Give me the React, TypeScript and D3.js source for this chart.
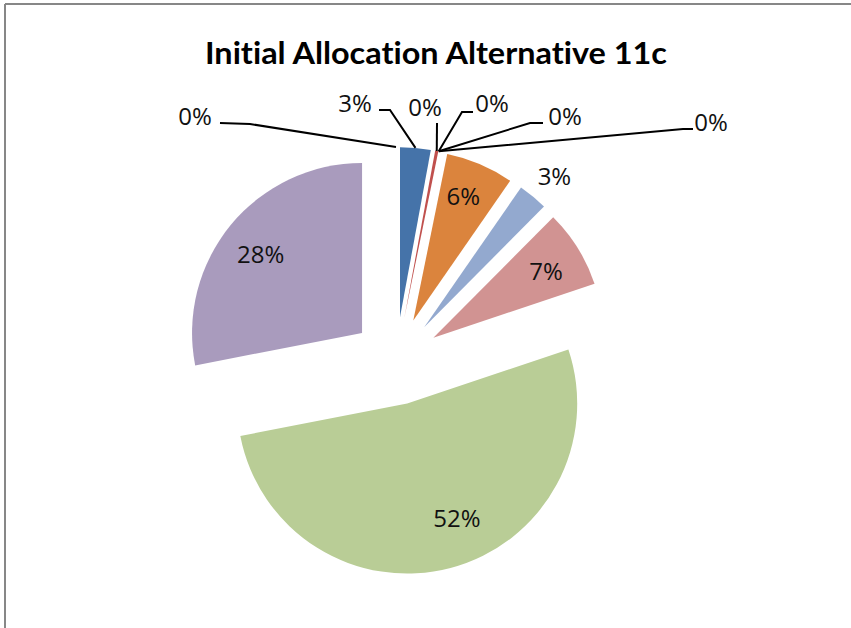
import React from "react";
import * as d3 from "d3";

// ---- data ----
const categories = [
  "Item 1", "Item 2", "Item 3", "Item 4", "Item 5", "Item 6",
  "Item 7", "Item 8", "Item 9", "Item 10", "Item 11",
];
const values = [2.9, 0.3, 0, 0, 0, 6.45, 2.8, 7.4, 52.1, 28.05, 0];
const colors = [
  "#4573A9", "#C0504D", "#9BBB59", "#8064A2", "#4BACC6", "#DB843D",
  "#93A9CF", "#D19392", "#B9CD96", "#A99BBD", "#92CDDC",
];
const title = "Initial Allocation Alternative 11c";

// ---- label layout ----
type Leader = { tx: number; ty: number; pts: [number, number][] };
const leaderLabels: Record<number, Leader> = {
  0: { tx: 355, ty: 112, pts: [[379, 110], [390, 110]] },
  1: { tx: 425, ty: 116, pts: [[437, 123]] },
  2: { tx: 492, ty: 112, pts: [[473, 112], [462, 112]] },
  3: { tx: 565, ty: 125, pts: [[543, 123], [530, 123]] },
  4: { tx: 711, ty: 131, pts: [[693, 129], [683, 129]] },
  10: { tx: 195, ty: 125, pts: [[220, 123], [250, 124]] },
};
// inside / outside labels: radius factor and nudge
const freeLabels: Record<number, { k: number; nudge: [number, number] }> = {
  5: { k: 0.78, nudge: [-2, -2] },
  6: { k: 1.17, nudge: [3, 2] },
  7: { k: 0.78, nudge: [0, 4] },
  8: { k: 0.78, nudge: [16, -13] },
  9: { k: 0.78, nudge: [1, 6] },
};

export default function App() {
  const W = 851;
  const H = 628;
  const cx = 396;
  const cy = 361;
  const R = 170;
  const explode = 44;

  const pieData = d3.pie<number>().sort(null).value((d) => d)(values);
  const arc = d3.arc<d3.PieArcDatum<number>>().innerRadius(0).outerRadius(R);
  const total = d3.sum(values);
  const dir = (a: number): [number, number] => [Math.sin(a), -Math.cos(a)];
  const fmt = (v: number) => `${Math.round((v / total) * 100)}%`;
  const labelFont = "'Open Sans', 'DejaVu Sans', sans-serif";

  return (
    <svg
      width={W}
      height={H}
      style={{ position: "absolute", left: 0, top: 0, background: "#fff" }}
    >
      <rect x={0} y={0} width={W} height={H} fill="#fff" />
      {/* frame */}
      <line x1={5} y1={4} x2={W} y2={4} stroke="#878787" strokeWidth={2} />
      <line x1={5} y1={4} x2={5} y2={H} stroke="#878787" strokeWidth={2} />

      <text
        x={436}
        y={64}
        textAnchor="middle"
        fontFamily="Lato, 'Open Sans', sans-serif"
        fontWeight="bold"
        fontSize={30}
        textLength={462}
        lengthAdjust="spacingAndGlyphs"
        fill="#000"
        style={{ fontVariantLigatures: "none", fontFeatureSettings: "'liga' 0, 'dlig' 0" }}
      >
        {title}
      </text>

      {pieData.map((d, i) => {
        const mid = (d.startAngle + d.endAngle) / 2;
        const [ux, uy] = dir(mid);
        const ox = cx + ux * explode;
        const oy = cy + uy * explode;
        if (d.endAngle - d.startAngle <= 0) return null;
        return (
          <path
            key={categories[i]}
            d={arc(d) || ""}
            transform={`translate(${ox},${oy})`}
            fill={colors[i]}
          />
        );
      })}

      {pieData.map((d, i) => {
        const mid = (d.startAngle + d.endAngle) / 2;
        const [ux, uy] = dir(mid);
        const ox = cx + ux * explode;
        const oy = cy + uy * explode;
        const label = fmt(values[i]);
        const lead = leaderLabels[i];
        if (lead) {
          const ax = ox + ux * R;
          const ay = oy + uy * R;
          const pts = [...lead.pts, [ax, ay]] as [number, number][];
          const line = d3.line()(pts) || "";
          return (
            <g key={"l" + i}>
              <path d={line} fill="none" stroke="#000" strokeWidth={2} />
              <text
                x={lead.tx}
                y={lead.ty}
                textAnchor="middle"
                fontFamily={labelFont}
                fontSize={24}
                fill="#111"
              >
                {label}
              </text>
            </g>
          );
        }
        const fl = freeLabels[i];
        if (!fl) return null;
        const lx = ox + ux * R * fl.k + fl.nudge[0];
        const ly = oy + uy * R * fl.k + fl.nudge[1];
        return (
          <text
            key={"t" + i}
            x={lx}
            y={ly}
            dy="0.36em"
            textAnchor="middle"
            fontFamily={labelFont}
            fontSize={24}
            fill="#111"
          >
            {label}
          </text>
        );
      })}
    </svg>
  );
}
